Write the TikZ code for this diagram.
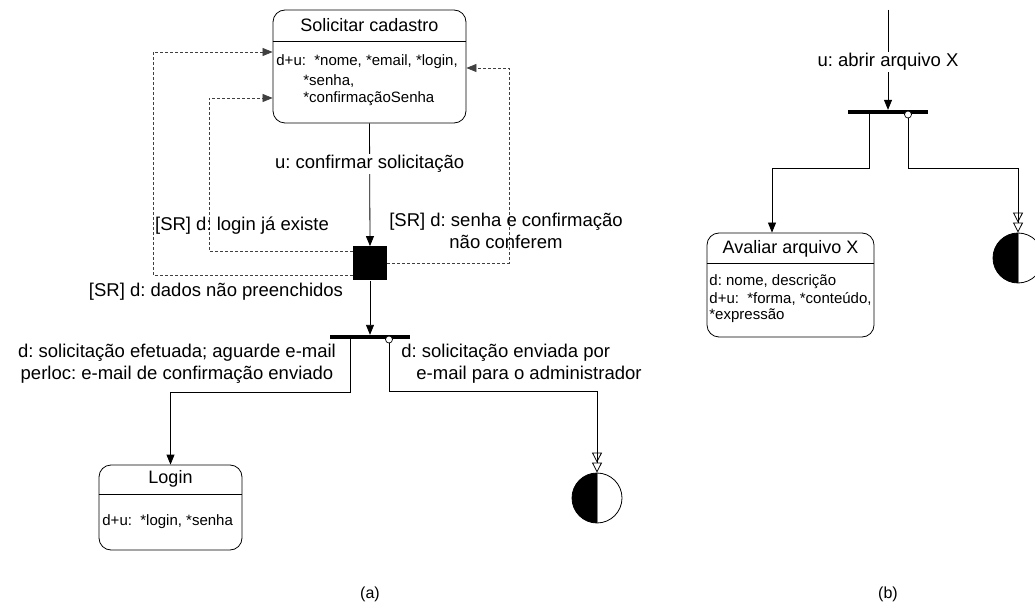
\documentclass[tikz,border=0pt]{standalone}
\usepackage{fontspec}
\setmainfont{Liberation Sans}
\usetikzlibrary{arrows.meta}
\frenchspacing
\begin{document}
\begin{tikzpicture}[x=1pt,y=-1pt,
  line width=0.8pt,
  statebox/.style={draw, rounded corners=12pt, line width=0.8pt, inner sep=0pt},
  boxtitle/.style={font=\fontsize{18}{21}\selectfont, inner sep=0pt},
  boxbody/.style={font=\fontsize{15}{18}\selectfont, inner sep=0pt, anchor=west},
  lbl/.style={font=\fontsize{18.5}{22}\selectfont, inner sep=1pt, align=center},
  lblw/.style={font=\fontsize{18.5}{22}\selectfont, inner sep=0pt, anchor=west},
  caption/.style={font=\fontsize{16}{19}\selectfont, inner sep=0pt},
  tip/.style={-{Triangle[width=8pt,length=10pt]}},
  hollowtip/.style={-{Triangle[open,width=10pt,length=10pt,sep=0pt]Triangle[open,width=10pt,length=10pt]}},
  guard/.style={dash pattern=on 3pt off 2pt, black!75, line width=0.7pt},
  forkbar/.style={fill, minimum width=80pt, minimum height=3.5pt, inner sep=0pt},
  choice/.style={fill, minimum size=34pt, inner sep=0pt},
  forkdot/.style={circle, draw, fill=white, minimum size=7pt, inner sep=0pt, line width=0.7pt},
  finalstate/.style={circle, draw, minimum size=50pt, inner sep=0pt,
    path picture={\fill[black] (path picture bounding box.north) rectangle (path picture bounding box.south west);
                  \draw[black!50, line width=0.6pt] (path picture bounding box.north) -- (path picture bounding box.south);}}
]
\path[use as bounding box] (0,0) rectangle (1035,609);
\clip (0,0) rectangle (1035,609);
\fill[white] (0,0) rectangle (1035,609);

% ---------------- (a) ----------------
\node[statebox, minimum width=193pt, minimum height=113pt] (sc) at (369.5,66.5) {};
\draw (sc.west |- 0,41) -- (sc.east |- 0,41);
\node[boxtitle] (sct) at (369.5,25) {Solicitar cadastro};
\node[boxbody] (scb1) at (276,62) {d+u:\ \ *nome, *email, *login,};
\node[boxbody] (scb2) at (303,81) {*senha,};
\node[boxbody] (scb3) at (303,99) {*confirmaçãoSenha};

\node[choice] (sq) at (370,263.5) {};

\draw[tip] (sc.south) -- node[lbl, fill=white, pos=0.33] (lab1) {u: confirmar solicitação} (sq.north);

% guard conditions looping back
\coordinate (g1a) at (209,251);
\coordinate (g1b) at (209,98);
\coordinate (g2a) at (153,275);
\coordinate (g2b) at (153,52);
\coordinate (g3a) at (509,263);
\coordinate (g3b) at (509,68);
\draw[guard, tip] (sq.west |- g1a) -- (g1a) -- (g1b) -- (sc.west |- g1b);
\draw[guard, tip] (sq.west |- g2a) -- (g2a) -- (g2b) -- (sc.west |- g2b);
\draw[guard, tip] (sq.east |- g3a) -- (g3a) -- (g3b) -- (sc.east |- g3b);

\node[lbl] (lab2) at (242,226) {[SR] d: login já existe};
\node[lbl] (lab3) at (216,292) {[SR] d: dados não preenchidos};
\node[lbl] (lab4) at (506,231) {[SR] d: senha e confirmação\\não conferem};

\node[forkbar] (bar1) at (370,337) {};
\draw[tip] (sq.south) -- (bar1.north);
\node[forkdot] (d1) at (389,339.5) {};

\node[statebox, minimum width=143pt, minimum height=85pt] (login) at (170.5,507.5) {};
\draw (login.west |- 0,494) -- (login.east |- 0,494);
\node[boxtitle] (logint) at (170.5,479) {Login};
\node[boxbody] (loginb) at (102,522) {d+u:\ \ *login, *senha};

\node[finalstate] (fa) at (597,498) {};

\coordinate (l1) at (350,392);
\coordinate (r1) at (389,391);
\draw[tip] (bar1.south -| l1) -- (l1) -| (login.north);
\draw[hollowtip] (d1.south) -- (r1) -| (fa.north);

\node[lbl] (lab5) at (177,364) {d: solicitação efetuada; aguarde e-mail\\perloc: e-mail de confirmação enviado};
\node[lblw] (lab6a) at (401,353) {d: solicitação enviada por};
\node[lblw] (lab6b) at (416,375) {e-mail para o administrador};

\node[caption] (capa) at (370,594) {(a)};

% ---------------- (b) ----------------
\coordinate (top) at (888,10);
\node[forkbar] (bar2) at (888,112) {};
\draw[tip] (top) -- node[lbl, fill=white, pos=0.52] (lab7) {u: abrir arquivo X} (bar2.north);
\node[forkdot] (d2) at (908,114.5) {};

\node[statebox, minimum width=167pt, minimum height=104pt] (av) at (790.5,285) {};
\draw (av.west |- 0,263) -- (av.east |- 0,263);
\node[boxtitle] (avt) at (790.5,249) {Avaliar arquivo X};
\node[boxbody] (avb1) at (709,282) {d: nome, descrição};
\node[boxbody] (avb2) at (709,299) {d+u:\ \ *forma, *conteúdo,};
\node[boxbody] (avb3) at (709,316) {*expressão};

\node[finalstate] (fb) at (1018,258) {};

\coordinate (l2a) at (869,168);
\coordinate (l2b) at (772,168);
\coordinate (r2) at (908,168);
\draw[tip] (bar2.south -| l2a) -- (l2a) -- (l2b) -- (av.north -| l2b);
\draw[hollowtip] (d2.south) -- (r2) -| (fb.north);

\node[caption] (capb) at (888,594) {(b)};
\end{tikzpicture}
\end{document}
